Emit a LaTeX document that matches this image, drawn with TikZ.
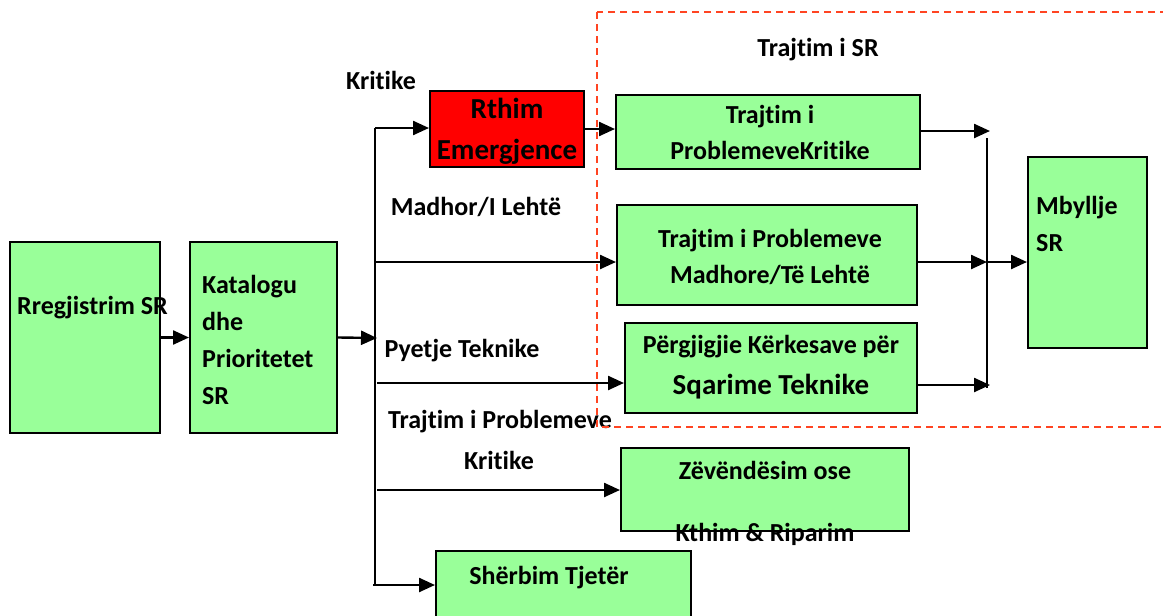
\documentclass[tikz,border=0pt]{standalone}
\usepackage{fontspec}
\setmainfont{Carlito}[Ligatures=NoCommon]
\usetikzlibrary{arrows.meta}
\definecolor{boxgreen}{HTML}{99FF99}
\definecolor{dashred}{HTML}{FF4422}

\begin{document}
\begin{tikzpicture}[x=1pt,y=-1pt,
    box/.style={draw=black,line width=2pt,fill=boxgreen,inner sep=0pt},
    txt/.style={font=\bfseries\fontsize{26}{37}\selectfont,align=center,inner sep=0pt},
    bigtxt/.style={font=\bfseries\fontsize{29}{41}\selectfont,align=center,inner sep=0pt},
    arr/.style={line width=2.4pt,-{Triangle[length=16pt,width=14pt]}}]
        \useasboundingbox (0,0) rectangle (1163,616);

        % Draw the boxes
        \node[box,minimum width=150pt,minimum height=191pt] (reg) at (85,337.5) {};
        \node[box,minimum width=147pt,minimum height=191pt] (kat) at (263.5,337.5) {};
        \node[box,fill=red,minimum width=154pt,minimum height=76pt] (rthim) at (507,129) {};
        \node[box,minimum width=304pt,minimum height=74pt] (tkrit) at (768,132) {};
        \node[box,minimum width=300pt,minimum height=100pt] (tmad) at (767,255) {};
        \node[box,minimum width=292pt,minimum height=90pt] (pergj) at (771,368) {};
        \node[box,minimum width=119pt,minimum height=191pt] (mbyl) at (1087.5,252.5) {};
        \node[box,minimum width=288pt,minimum height=83pt] (zev) at (765,489.5) {};
        \node[box,minimum width=255pt,minimum height=79pt] (sherb) at (563.5,590.5) {};

        % Texts in the boxes
        \node[txt,anchor=west] (regtxt) at (17,308) {Rregjistrim SR};
        \node[txt,anchor=west,align=left] (kattxt) at (202,340) {Katalogu\\dhe\\Prioritetet\\SR};
        \node[bigtxt] (rthimtxt) at (507,131.5) {Rthim\\Emergjence};
        \node[txt,font=\bfseries\fontsize{26}{36}\selectfont] (tkrittxt) at (770,132) {Trajtim i\\ProblemeveKritike};
        \node[txt,font=\bfseries\fontsize{26}{36}\selectfont] (tmadtxt) at (770,257) {Trajtim i Problemeve\\Madhore/Të Lehtë};
        \node[txt] (pergjtxt1) at (771,347) {Përgjigjie Kërkesave për};
        \node[bigtxt] (pergjtxt2) at (771,387) {Sqarime Teknike};
        \node[txt,anchor=west,align=left] (mbyltxt) at (1036,223.5) {Mbyllje\\SR};
        \node[txt] (zevtxt1) at (765,470) {Zëvëndësim ose};
        \node[txt] (zevtxt2) at (765,534) {Kthim \& Riparim};
        \node[txt] (sherbtxt) at (549,578) {Shërbim Tjetër};

        % Labels on the branches
        \node[txt] (lkrit) at (381,80) {Kritike};
        \node[txt] (lmad) at (476,207) {Madhor/I Lehtë};
        \node[txt] (lpyet) at (462,351) {Pyetje Teknike};
        \node[txt] (ltraj) at (500,422) {Trajtim i Problemeve};
        \node[txt] (lkrit2) at (499,460) {Kritike};
        \node[txt] (lsr) at (818,50) {Trajtim i SR};

        % Branch points
        \coordinate (b0) at (377,338);
        \coordinate (b1) at (375,128);
        \coordinate (b2) at (375,262);
        \coordinate (b3) at (377,383);
        \coordinate (b4) at (377,490);
        \coordinate (b5) at (373,585);
        \coordinate (c1) at (990,131);
        \coordinate (c2) at (987,262);
        \coordinate (c3) at (990,385);

        % Connectors
        \draw[arr] (reg.east) -- (kat.west);
        \draw[arr] (kat.east) -- (b0);
        \draw[line width=1.8pt] (b1) -- (375,585);
        \draw[arr] (b1) -- (b1 -| rthim.west);
        \draw[arr] (b2) -- (b2 -| tmad.west);
        \draw[arr] (b3) -- (b3 -| pergj.west);
        \draw[arr] (b4) -- (b4 -| zev.west);
        \draw[arr] (b5) -- (b5 -| sherb.west);
        \draw[arr] (rthim.east) -- (rthim.east -| tkrit.west);
        \draw[arr] (tkrit.east |- c1) -- (c1);
        \draw[arr] (tmad.east |- c2) -- (c2);
        \draw[arr] (pergj.east |- c3) -- (c3);
        \draw[line width=1.8pt] (987,138) -- (987,388);
        \draw[arr] (c2) -- (c2 -| mbyl.west);

        % Dashed frame
        \draw[dashred,line width=1.6pt,dash pattern=on 7pt off 5pt] (597,12) rectangle (1175,427);
    \end{tikzpicture}
\end{document}
